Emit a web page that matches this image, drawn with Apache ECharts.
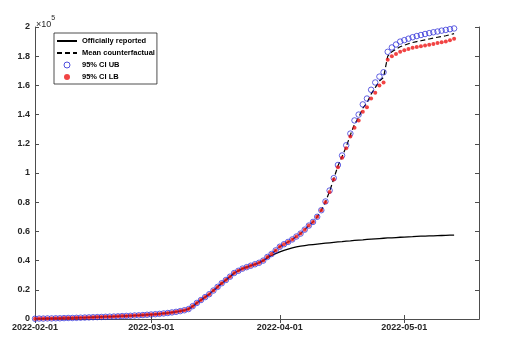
<!DOCTYPE html>
<html>
<head>
<meta charset="utf-8">
<script src="https://cdn.jsdelivr.net/npm/echarts@6/dist/echarts.min.js"></script>
<style>
  html, body { margin: 0; padding: 0; background: #fff; }
  #chart { width: 517px; height: 338px; }
</style>
</head>
<body>
<div id="chart"></div>
<script>
// Cumulative cases, in units of 10^5, one value per day from 2022-02-01.
const startDate = [2022, 1, 1];

const officiallyReported = [
  0.002, 0.003, 0.003, 0.004, 0.004, 0.005, 0.005, 0.006, 0.007, 0.007,
  0.008, 0.009, 0.010, 0.011, 0.012, 0.013, 0.014, 0.015, 0.016, 0.017,
  0.018, 0.020, 0.021, 0.022, 0.024, 0.025, 0.027, 0.029, 0.031, 0.033,
  0.035, 0.038, 0.041, 0.045, 0.049, 0.054, 0.060, 0.068, 0.088, 0.110,
  0.130, 0.150, 0.170, 0.195, 0.220, 0.245, 0.267, 0.290, 0.315, 0.330,
  0.345, 0.355, 0.365, 0.375, 0.385, 0.400, 0.418, 0.435, 0.448, 0.460,
  0.470, 0.479, 0.487, 0.494, 0.499, 0.503, 0.507, 0.510, 0.513, 0.516,
  0.519, 0.522, 0.525, 0.528, 0.530, 0.533, 0.535, 0.538, 0.540, 0.542,
  0.545, 0.547, 0.549, 0.551, 0.553, 0.555, 0.556, 0.558, 0.560, 0.561,
  0.563, 0.564, 0.566, 0.567, 0.568, 0.569, 0.570, 0.571, 0.572, 0.573,
  0.574, 0.575
];

const meanCounterfactual = [
  0.002, 0.003, 0.003, 0.004, 0.004, 0.005, 0.005, 0.006, 0.007, 0.007,
  0.008, 0.009, 0.010, 0.011, 0.012, 0.013, 0.014, 0.015, 0.016, 0.017,
  0.018, 0.020, 0.021, 0.022, 0.024, 0.025, 0.027, 0.029, 0.031, 0.033,
  0.035, 0.038, 0.041, 0.045, 0.049, 0.054, 0.060, 0.068, 0.088, 0.110,
  0.130, 0.150, 0.170, 0.195, 0.220, 0.245, 0.267, 0.290, 0.315, 0.330,
  0.345, 0.355, 0.365, 0.375, 0.385, 0.400, 0.425, 0.445, 0.470, 0.495,
  0.512, 0.528, 0.545, 0.565, 0.585, 0.612, 0.640, 0.665, 0.700, 0.745,
  0.802, 0.875, 0.960, 1.048, 1.112, 1.180, 1.260, 1.335, 1.380, 1.445,
  1.480, 1.540, 1.585, 1.630, 1.655, 1.800, 1.830, 1.848, 1.865, 1.875,
  1.885, 1.894, 1.900, 1.906, 1.912, 1.918, 1.924, 1.930, 1.935, 1.940,
  1.947, 1.955
];

const ciUpper = [
  0.002, 0.003, 0.003, 0.004, 0.004, 0.005, 0.005, 0.006, 0.007, 0.007,
  0.008, 0.009, 0.010, 0.011, 0.012, 0.013, 0.014, 0.015, 0.016, 0.017,
  0.018, 0.020, 0.021, 0.022, 0.024, 0.025, 0.027, 0.029, 0.031, 0.033,
  0.035, 0.038, 0.041, 0.045, 0.049, 0.054, 0.060, 0.068, 0.088, 0.110,
  0.130, 0.150, 0.170, 0.195, 0.220, 0.245, 0.267, 0.290, 0.315, 0.330,
  0.345, 0.355, 0.365, 0.375, 0.385, 0.400, 0.425, 0.445, 0.470, 0.495,
  0.512, 0.528, 0.545, 0.565, 0.585, 0.612, 0.640, 0.665, 0.700, 0.745,
  0.805, 0.880, 0.965, 1.055, 1.120, 1.190, 1.270, 1.360, 1.400, 1.470,
  1.510, 1.570, 1.620, 1.660, 1.690, 1.830, 1.860, 1.880, 1.900, 1.910,
  1.920, 1.930, 1.938, 1.945, 1.952, 1.958, 1.964, 1.969, 1.975, 1.980,
  1.985, 1.990
];

const ciLower = [
  0.002, 0.003, 0.003, 0.004, 0.004, 0.005, 0.005, 0.006, 0.007, 0.007,
  0.008, 0.009, 0.010, 0.011, 0.012, 0.013, 0.014, 0.015, 0.016, 0.017,
  0.018, 0.020, 0.021, 0.022, 0.024, 0.025, 0.027, 0.029, 0.031, 0.033,
  0.035, 0.038, 0.041, 0.045, 0.049, 0.054, 0.060, 0.068, 0.088, 0.110,
  0.130, 0.150, 0.170, 0.195, 0.220, 0.245, 0.267, 0.290, 0.315, 0.330,
  0.345, 0.355, 0.365, 0.375, 0.385, 0.400, 0.425, 0.445, 0.470, 0.495,
  0.512, 0.528, 0.545, 0.565, 0.585, 0.612, 0.640, 0.665, 0.700, 0.745,
  0.800, 0.870, 0.955, 1.040, 1.105, 1.170, 1.250, 1.310, 1.360, 1.420,
  1.450, 1.510, 1.550, 1.600, 1.620, 1.775, 1.800, 1.815, 1.830, 1.840,
  1.850, 1.858, 1.863, 1.868, 1.873, 1.878, 1.884, 1.890, 1.895, 1.900,
  1.910, 1.920
];

const seriesNames = ['Officially reported', 'Mean counterfactual', '95% CI UB', '95% CI LB'];
const yTicks = { min: 0, max: 2, interval: 0.2 };
const tickDates = [[2022, 1, 1], [2022, 2, 1], [2022, 3, 1], [2022, 4, 1]];
const axisEnd = [2022, 4, 19];

const ts = (d) => new Date(d[0], d[1], d[2]).getTime();
const dayMs = 86400000;
const t0 = ts(startDate);
const pair = (arr) => arr.map((v, i) => [t0 + i * dayMs, v]);
const tickValues = tickDates.map(ts);

const pad = (n) => (n < 10 ? '0' : '') + n;
const fmtDate = (v) => {
  const d = new Date(v);
  return d.getFullYear() + '-' + pad(d.getMonth() + 1) + '-' + pad(d.getDate());
};

const axisColor = '#4d4d4d';
const blue = '#2424d6';
const red = '#ee1515';
const fontFamily = 'Liberation Sans, Arial, sans-serif';
const labelFont = { color: '#262626', fontFamily: fontFamily, fontWeight: 'bold', fontSize: 9 };

const chart = echarts.init(document.getElementById('chart'), null, { renderer: 'canvas' });

chart.setOption({
  animation: false,
  backgroundColor: '#fff',
  grid: { left: 35, right: 38, top: 27, bottom: 19, containLabel: false },
  legend: {
    orient: 'vertical',
    left: 54,
    top: 33,
    padding: [4, 2, 3, 2],
    itemGap: 4,
    itemWidth: 20,
    itemHeight: 6,
    borderColor: '#222',
    borderWidth: 0.8,
    borderRadius: 0,
    backgroundColor: '#fff',
    textStyle: { color: '#000', fontFamily: fontFamily, fontWeight: 'bold', fontSize: 7.5 },
    data: [
      { name: seriesNames[0], itemStyle: { opacity: 0 } },
      { name: seriesNames[1], itemStyle: { opacity: 0 } },
      { name: seriesNames[2], itemStyle: { color: 'rgba(255,255,255,0)', borderColor: blue, borderWidth: 1 } },
      { name: seriesNames[3] }
    ]
  },
  graphic: [{
    type: 'text',
    left: 36,
    top: 15,
    style: {
      text: '{b|×10}{s|5}',
      rich: {
        b: { fontSize: 9, fontFamily: fontFamily, fill: '#262626', verticalAlign: 'bottom', lineHeight: 14 },
        s: { fontSize: 7, fontFamily: fontFamily, fill: '#262626', verticalAlign: 'top', lineHeight: 14, padding: [0, 0, 6, 0] }
      }
    }
  }],
  xAxis: [{
    type: 'value',
    position: 'bottom',
    min: ts(startDate),
    max: ts(axisEnd),
    axisLine: { show: true, lineStyle: { color: axisColor, width: 1 } },
    axisTick: { show: true, inside: true, length: 4, customValues: tickValues, lineStyle: { color: axisColor } },
    axisLabel: Object.assign({ customValues: tickValues, formatter: fmtDate, margin: 4, showMinLabel: true }, labelFont),
    splitLine: { show: false }
  }, {
    type: 'value',
    position: 'top',
    min: ts(startDate),
    max: ts(axisEnd),
    axisLine: { show: true, lineStyle: { color: axisColor, width: 1 } },
    axisTick: { show: true, inside: true, length: 4, customValues: tickValues, lineStyle: { color: axisColor } },
    axisLabel: { show: false },
    splitLine: { show: false }
  }],
  yAxis: [{
    type: 'value',
    position: 'left',
    min: yTicks.min,
    max: yTicks.max,
    interval: yTicks.interval,
    axisLine: { show: true, lineStyle: { color: axisColor, width: 1 } },
    axisTick: { show: true, inside: true, length: 4, lineStyle: { color: axisColor } },
    axisLabel: Object.assign({ margin: 5, formatter: (v) => String(parseFloat(v.toFixed(1))) }, labelFont),
    splitLine: { show: false }
  }, {
    type: 'value',
    position: 'right',
    min: yTicks.min,
    max: yTicks.max,
    interval: yTicks.interval,
    axisLine: { show: true, lineStyle: { color: axisColor, width: 1 } },
    axisTick: { show: true, inside: true, length: 4, lineStyle: { color: axisColor } },
    axisLabel: { show: false },
    splitLine: { show: false }
  }],
  series: [{
    name: seriesNames[0],
    type: 'line',
    data: pair(officiallyReported),
    showSymbol: false,
    symbol: 'none',
    lineStyle: { color: '#000', width: 1.3 },
    itemStyle: { color: '#000' },
    z: 2
  }, {
    name: seriesNames[1],
    type: 'line',
    data: pair(meanCounterfactual),
    showSymbol: false,
    symbol: 'none',
    lineStyle: { color: '#000', width: 1.2, type: [5, 3] },
    itemStyle: { color: '#000' },
    z: 3
  }, {
    name: seriesNames[2],
    type: 'scatter',
    data: pair(ciUpper),
    symbol: 'circle',
    symbolSize: 5.5,
    itemStyle: { color: 'rgba(255,255,255,0)', borderColor: blue, borderWidth: 0.9 },
    z: 4
  }, {
    name: seriesNames[3],
    type: 'scatter',
    data: pair(ciLower),
    symbol: 'circle',
    symbolSize: 4,
    itemStyle: { color: red },
    z: 5
  }]
});
</script>
</body>
</html>
